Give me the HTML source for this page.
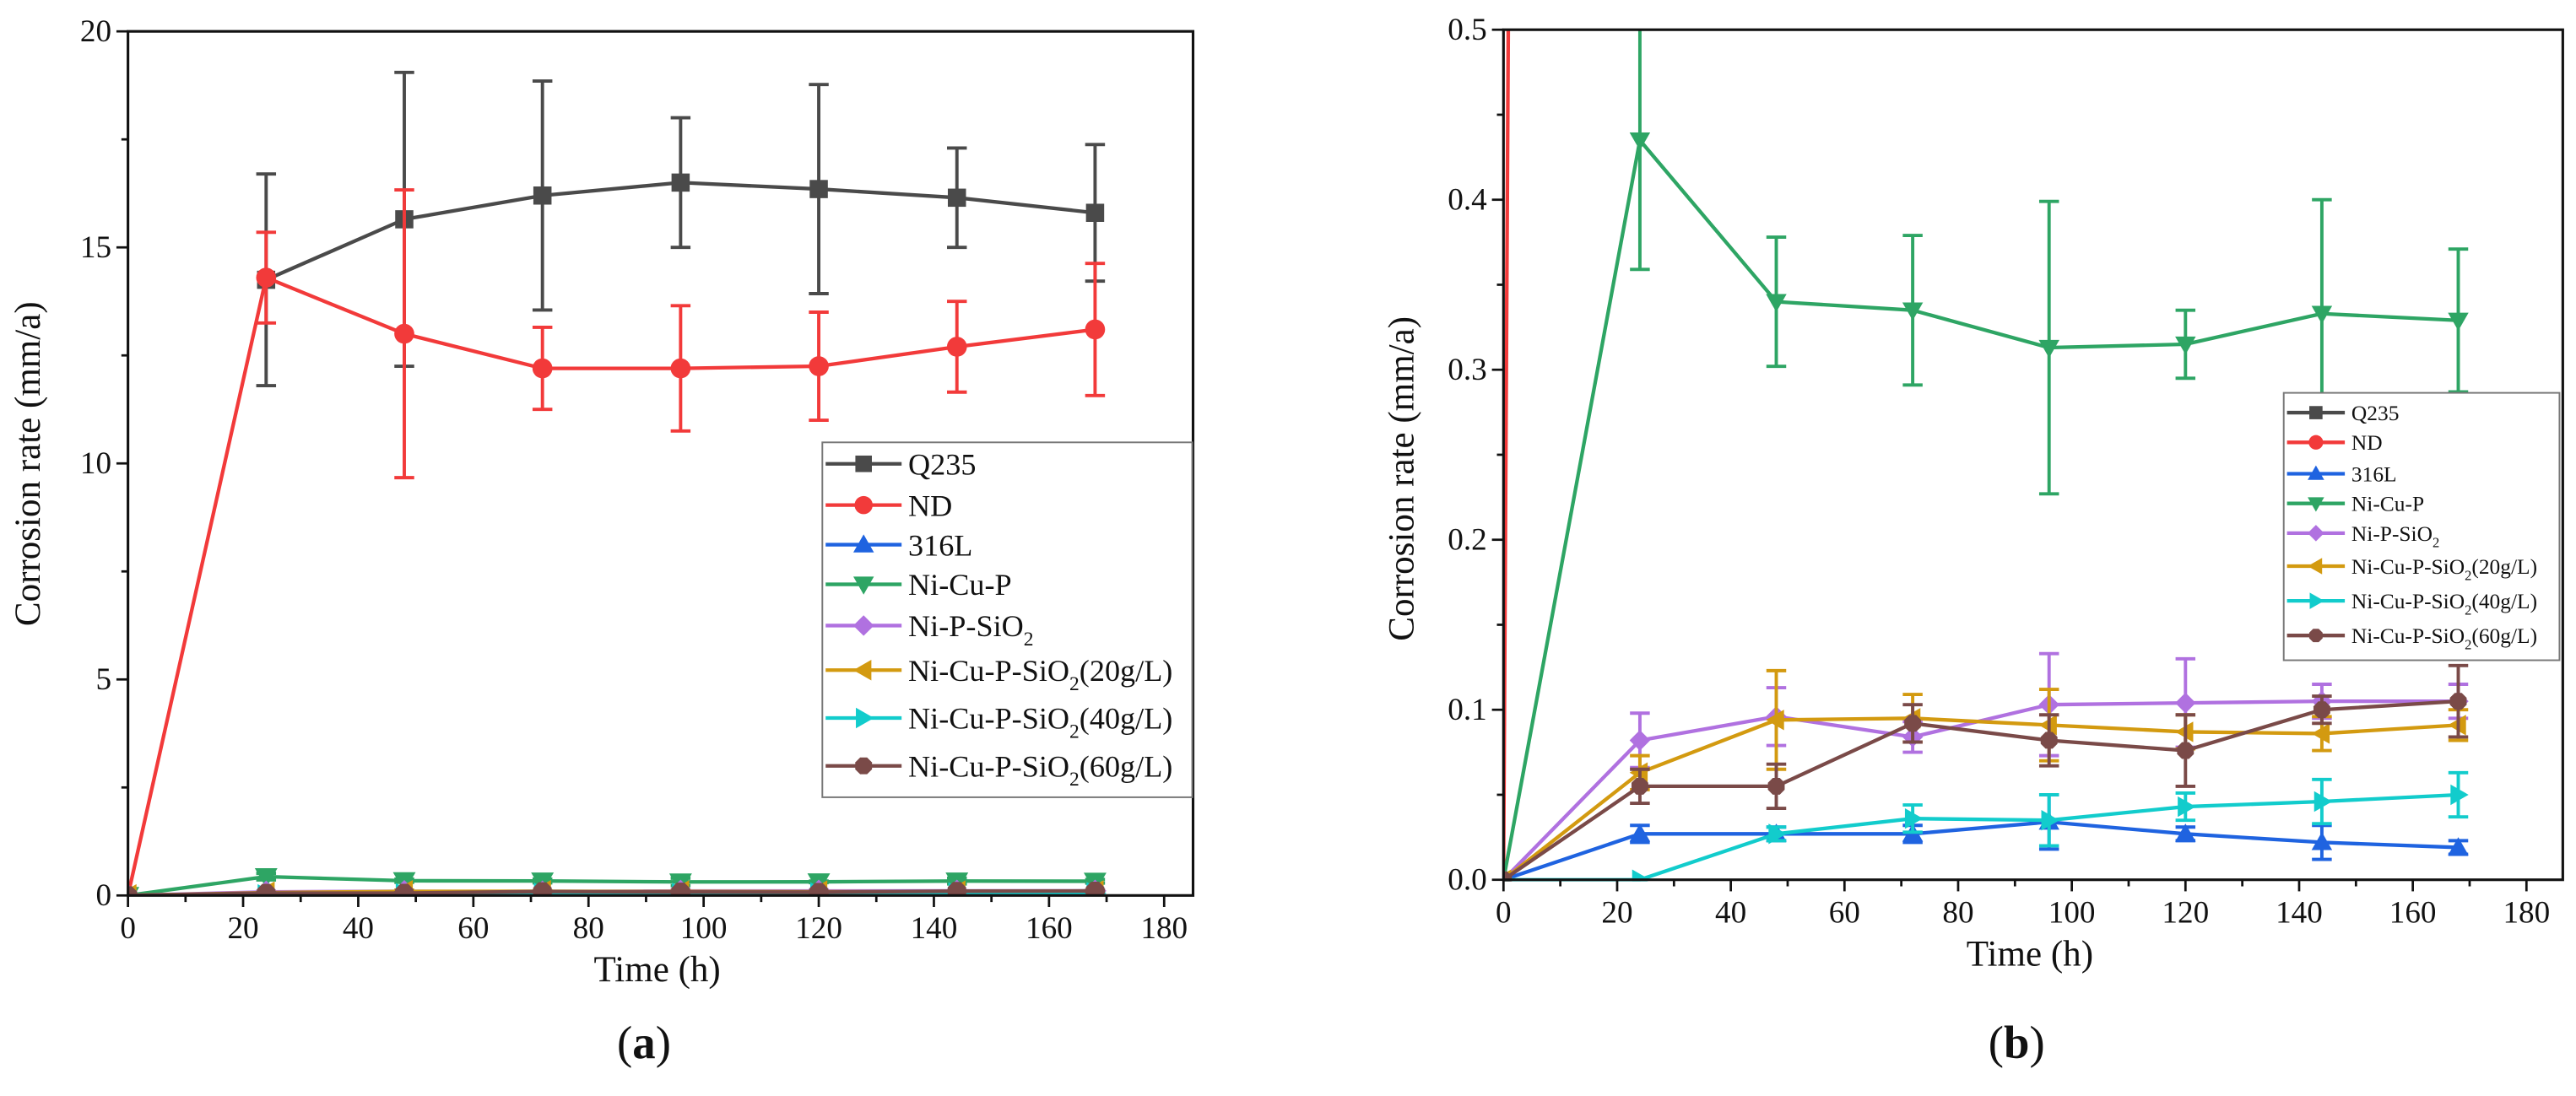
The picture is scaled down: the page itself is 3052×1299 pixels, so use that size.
<!DOCTYPE html>
<html><head><meta charset="utf-8">
<style>
html,body{margin:0;padding:0;background:#fff;}
svg{display:block;}
svg text, svg tspan{font-family:"Liberation Serif","DejaVu Serif",serif;fill:#111;}
</style></head>
<body>
<svg id="fig" xmlns="http://www.w3.org/2000/svg" width="3052" height="1299" viewBox="0 0 1560 664" preserveAspectRatio="none" font-family="Liberation Serif, DejaVu Serif, serif">
<defs>
<clipPath id="clipA"><rect x="77.5" y="19" width="645" height="524"/></clipPath>
<clipPath id="clipB"><rect x="910.5" y="18" width="642" height="516"/></clipPath>
</defs>
<g id="panelA"></g>
<g id="panelB"></g>
</svg>
<script>
// ---- data ----
const times = [0, 24, 48, 72, 96, 120, 144, 168];
const seriesNames = ["Q235", "ND", "316L", "Ni-Cu-P", "Ni-P-SiO2", "Ni-Cu-P-SiO2(20g/L)", "Ni-Cu-P-SiO2(40g/L)", "Ni-Cu-P-SiO2(60g/L)"];
const q235 = [null, 14.25, 15.65, 16.2, 16.5, 16.35, 16.15, 15.8];
const q235Err = [0, 2.45, 3.4, 2.65, 1.5, 2.42, 1.15, 1.58];
const nd = [0, 14.3, 13.0, 12.2, 12.2, 12.25, 12.7, 13.1];
const ndErr = [0, 1.05, 3.33, 0.95, 1.45, 1.25, 1.05, 1.53];
const s316L = [0, 0.027, 0.027, 0.027, 0.034, 0.027, 0.022, 0.019];
const s316LErr = [0, 0.005, 0.004, 0.005, 0.016, 0.004, 0.01, 0.004];
const niCuP = [0, 0.435, 0.340, 0.335, 0.313, 0.315, 0.333, 0.329];
const niCuPErr = [0, 0.076, 0.038, 0.044, 0.086, 0.02, 0.067, 0.042];
const niPSiO2 = [0, 0.082, 0.096, 0.084, 0.103, 0.104, 0.105, 0.105];
const niPSiO2Err = [0, 0.016, 0.017, 0.009, 0.03, 0.026, 0.01, 0.01];
const g20 = [0, 0.063, 0.094, 0.095, 0.091, 0.087, 0.086, 0.091];
const g20Err = [0, 0.01, 0.029, 0.014, 0.021, 0.01, 0.01, 0.009];
const g40 = [0, 0.0, 0.027, 0.036, 0.035, 0.043, 0.046, 0.050];
const g40Err = [0, 0.0, 0.004, 0.008, 0.015, 0.008, 0.013, 0.013];
const g60 = [0, 0.055, 0.055, 0.092, 0.082, 0.076, 0.100, 0.105];
const g60Err = [0, 0.01, 0.013, 0.011, 0.015, 0.021, 0.008, 0.021];
const xTicks = [0, 20, 40, 60, 80, 100, 120, 140, 160, 180];
const yTicksA = [0, 5, 10, 15, 20];
const yTicksB = [0.0, 0.1, 0.2, 0.3, 0.4, 0.5];

const colors = ["#4a4a4a", "#f23a3a", "#1f63e0", "#2ea564", "#b071e0", "#d39a10", "#12cccc", "#7a4a48"];
const markers = ["square", "circle", "up", "down", "diamond", "left", "right", "octagon"];
const allVals = [q235, nd, s316L, niCuP, niPSiO2, g20, g40, g60];
const allErrs = [q235Err, ndErr, s316LErr, niCuPErr, niPSiO2Err, g20Err, g40Err, g60Err];
const FONT = '"Liberation Serif", "DejaVu Serif", serif';

const NS = "http://www.w3.org/2000/svg";
function mk(tag, attrs, parent) {
  const e = document.createElementNS(NS, tag);
  for (const k in attrs) e.setAttribute(k, attrs[k]);
  if (tag === "text") e.setAttribute("font-family", FONT);
  if (parent) parent.appendChild(e);
  return e;
}
function marker(g, type, cx, cy, r, color) {
  let e;
  if (type === "square") e = mk("rect", {x: cx - r, y: cy - r, width: 2 * r, height: 2 * r, fill: color}, g);
  else if (type === "circle") e = mk("circle", {cx: cx, cy: cy, r: r * 1.1, fill: color}, g);
  else if (type === "octagon") {
    const p = []; for (let i = 0; i < 8; i++) { const a = Math.PI / 8 + i * Math.PI / 4; p.push((cx + r * 1.1 * Math.cos(a)).toFixed(2) + "," + (cy + r * 1.1 * Math.sin(a)).toFixed(2)); }
    e = mk("polygon", {points: p.join(" "), fill: color}, g);
  } else {
    let pts;
    const s = r * 1.25;
    if (type === "up") pts = [[cx, cy - s], [cx + s, cy + s * 0.75], [cx - s, cy + s * 0.75]];
    else if (type === "down") pts = [[cx, cy + s], [cx + s, cy - s * 0.75], [cx - s, cy - s * 0.75]];
    else if (type === "left") pts = [[cx - s, cy], [cx + s * 0.75, cy - s], [cx + s * 0.75, cy + s]];
    else if (type === "right") pts = [[cx + s, cy], [cx - s * 0.75, cy - s], [cx - s * 0.75, cy + s]];
    else pts = [[cx, cy - s], [cx + s, cy], [cx, cy + s], [cx - s, cy]];
    e = mk("polygon", {points: pts.map(p => p.join(",")).join(" "), fill: color}, g);
  }
  
  
  return e;
}

function drawPanel(root, cfg) {
  const X = v => cfg.x0 + (v - 0) / 180 * (cfg.x180 - cfg.x0);
  const Y = v => cfg.yb + (v - 0) / cfg.ymax * (cfg.yt - cfg.yb);
  const dg = mk("g", {"clip-path": "url(#" + cfg.clip + ")"}, root);
  
  
  for (let s = 0; s < allVals.length; s++) {
    const vals = allVals[s], errs = allErrs[s], col = colors[s];
    const sg = mk("g", {}, dg);
    
    
    const pts = [];
    times.forEach((t, i) => { if (vals[i] !== null) pts.push([X(t), Y(vals[i]), i]); });
    const ln = mk("polyline", {points: pts.map(p => p[0].toFixed(2) + "," + p[1].toFixed(2)).join(" "), fill: "none", stroke: col, "stroke-width": 2.2, "stroke-linejoin": "round"}, sg);
    
    
    pts.forEach(p => {
      const i = p[2];
      if (errs[i] > 0) {
        const yt = Y(vals[i] + errs[i]), yb = Y(vals[i] - errs[i]), x = p[0];
        const eb = mk("path", {d: `M${x},${yt}V${yb}M${x - 6},${yt}H${x + 6}M${x - 6},${yb}H${x + 6}`, stroke: col, "stroke-width": 2, fill: "none"}, sg);
        
        
      }
      if (times[i] > 0 || s !== 1) marker(sg, markers[s], p[0], p[1], cfg.mr, col);
    });
  }
  const ax = mk("g", {}, root);
  
  
  mk("rect", {x: cfg.x0, y: cfg.yt, width: cfg.xr - cfg.x0, height: cfg.yb - cfg.yt, fill: "none", stroke: "#111", "stroke-width": 1.6}, ax);
  for (let v = 0; v <= 180; v += 10) {
    const major = v % 20 === 0;
    mk("line", {x1: X(v), x2: X(v), y1: cfg.yb, y2: cfg.yb + (major ? 7 : 4), stroke: "#111", "stroke-width": 1.4}, ax);
  }
  xTicks.forEach(v => {
    const t = mk("text", {x: X(v), y: cfg.yb + 26, "text-anchor": "middle", "font-size": 19}, ax);
    t.textContent = v;
    
    
  });
  const yt = cfg.yticks, step = yt[1] - yt[0];
  for (let k = 0; k <= (yt.length - 1) * 2; k++) {
    const v = k * step / 2;
    mk("line", {x1: cfg.x0, x2: cfg.x0 - (k % 2 === 0 ? 7 : 4), y1: Y(v), y2: Y(v), stroke: "#111", "stroke-width": 1.4}, ax);
  }
  yt.forEach(v => {
    const t = mk("text", {x: cfg.x0 - 10, y: Y(v) + 6, "text-anchor": "end", "font-size": 19}, ax);
    t.textContent = cfg.fmt(v);
    
    
  });
  const xt = mk("text", {x: (cfg.x0 + cfg.xr) / 2 - 2, y: cfg.yb + 52, "text-anchor": "middle", "font-size": 22}, root);
  xt.textContent = "Time (h)";
  
  
  const ytl = mk("text", {x: 0, y: 0, "text-anchor": "middle", "font-size": 22, transform: `translate(${cfg.ytx},${cfg.yty}) rotate(-90)`}, root);
  ytl.textContent = "Corrosion rate (mm/a)";
  
  
  const cap = mk("text", {x: (cfg.x0 + cfg.xr) / 2 - 10, y: 641, "text-anchor": "middle", "font-size": 28}, root);
  cap.innerHTML = '(<tspan font-weight="bold">' + cfg.cap + '</tspan>)';
  
  
  const L = cfg.leg;
  const lg = mk("g", {}, root);
  
  
  mk("rect", {x: L.x, y: L.y, width: L.w, height: L.h, fill: "#fff", stroke: "#777", "stroke-width": 1}, lg);
  seriesNames.forEach((n, i) => {
    const eg = mk("g", {}, lg);
    
    
    const yy = L.rows[i];
    mk("line", {x1: L.x + 2, x2: L.x + 2 + L.seg, y1: yy, y2: yy, stroke: colors[i], "stroke-width": 2.2}, eg);
    marker(eg, markers[i], L.x + 2 + L.seg / 2, yy, L.mr, colors[i]);
    const t = mk("text", {x: L.x + L.seg + 6, y: yy + L.fs * 0.35, "font-size": L.fs}, eg);
    const m = n.match(/^(.*)SiO2(.*)$/);
    if (m) t.innerHTML = m[1] + 'SiO<tspan font-size="' + (L.fs * 0.65) + '" dy="' + (L.fs * 0.3) + '">2</tspan><tspan dy="' + (-L.fs * 0.3) + '">' + m[2] + '</tspan>';
    else t.textContent = n;
  });
}

drawPanel(document.getElementById("panelA"), {
  x0: 77.5, x180: 705, xr: 722.5, yt: 19, yb: 542.5, ymax: 20, clip: "clipA", mr: 5.5,
  yticks: yTicksA, fmt: v => String(v), ytx: 24, yty: 281, cap: "a",
  leg: {x: 498, y: 268, w: 224, h: 215, seg: 46, mr: 5, fs: 18.5, rows: [281, 306, 330, 354, 379, 406, 435, 464]}
});
drawPanel(document.getElementById("panelB"), {
  x0: 910.5, x180: 1530, xr: 1552, yt: 18, yb: 533, ymax: 0.5, clip: "clipB", mr: 5,
  yticks: yTicksB, fmt: v => v.toFixed(1), ytx: 856, yty: 290, cap: "b",
  leg: {x: 1383, y: 238, w: 167, h: 162, seg: 35, mr: 4, fs: 13, rows: [250, 268, 287, 305, 323, 343, 364, 385]}
});
</script>
</body></html>
